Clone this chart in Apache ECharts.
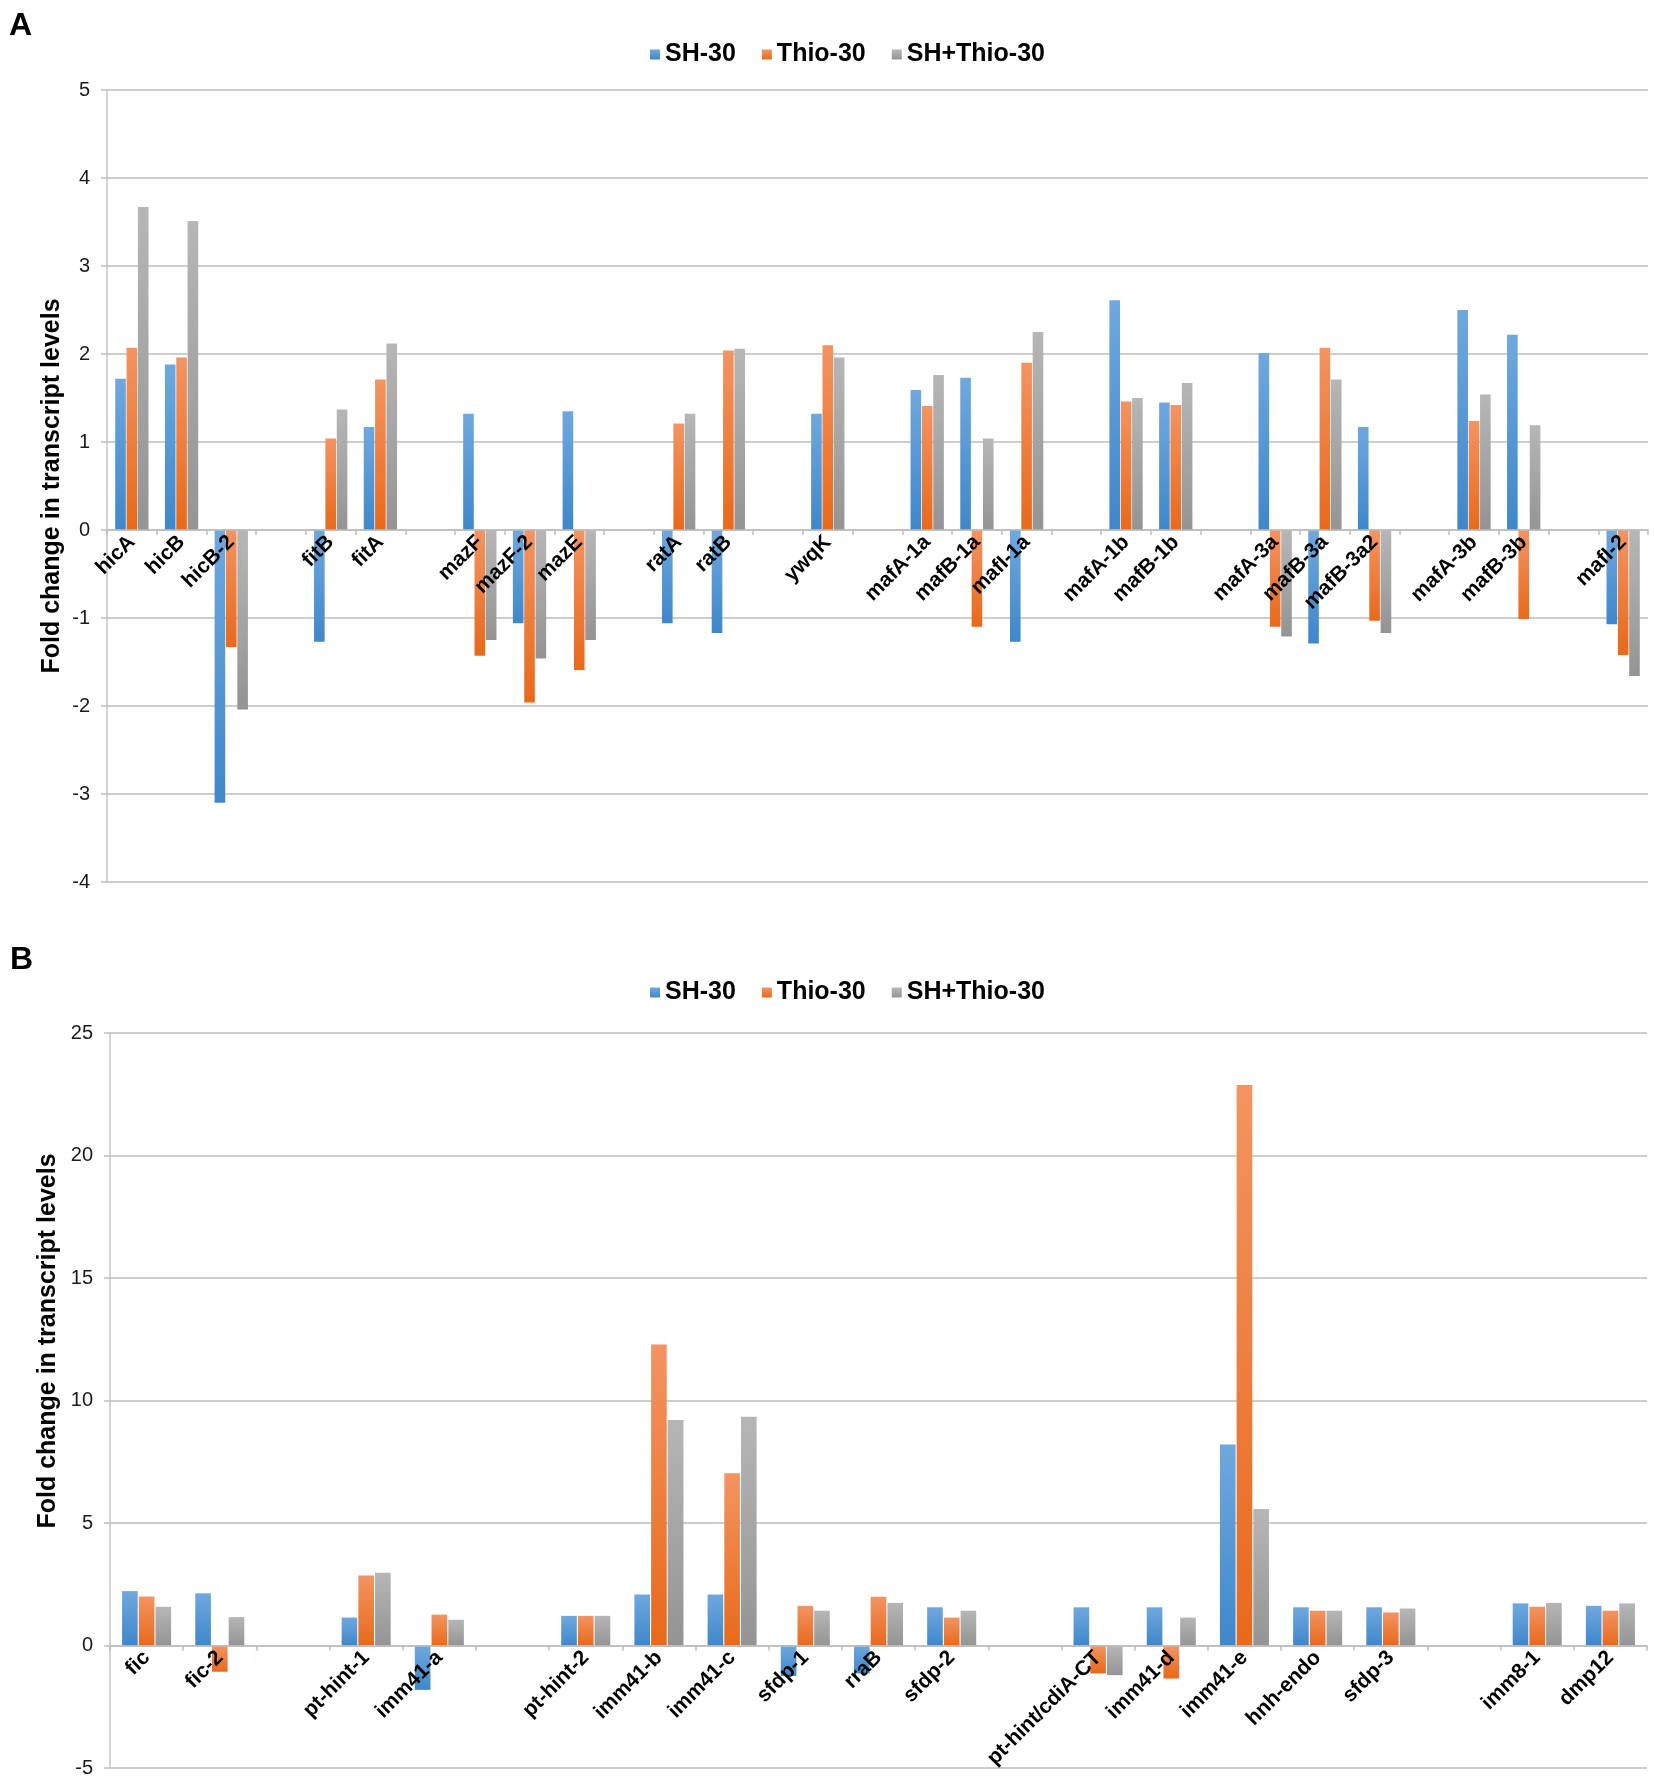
<!DOCTYPE html>
<html>
<head>
<meta charset="utf-8">
<script src="https://cdn.jsdelivr.net/npm/echarts@6/dist/echarts.min.js"></script>
<style>
  html, body { margin: 0; padding: 0; background: #fff; }
  #main { width: 1654px; height: 1783px; }
</style>
</head>
<body>
<div id="main"></div>
<script type="text/javascript">
// panel A - toxin/antitoxin genes ('' = empty slot between groups)
var catsA = ['hicA', 'hicB', 'hicB-2', '', 'fitB', 'fitA', '', 'mazF', 'mazF-2', 'mazE', '', 'ratA', 'ratB', '', 'ywqK', '',
  'mafA-1a', 'mafB-1a', 'mafI-1a', '', 'mafA-1b', 'mafB-1b', '', 'mafA-3a', 'mafB-3a', 'mafB-3a2', '', 'mafA-3b', 'mafB-3b', '', 'mafI-2'];
var sh30A = [1.72, 1.88, -3.10, null, -1.27, 1.17, null, 1.32, -1.06, 1.35, null, -1.06, -1.17, null, 1.32, null,
  1.59, 1.73, -1.27, null, 2.61, 1.45, null, 2.01, -1.29, 1.17, null, 2.50, 2.22, null, -1.07];
var thio30A = [2.07, 1.96, -1.33, null, 1.04, 1.71, null, -1.43, -1.96, -1.59, null, 1.21, 2.04, null, 2.10, null,
  1.41, -1.10, 1.90, null, 1.46, 1.42, null, -1.10, 2.07, -1.03, null, 1.24, -1.01, null, -1.42];
var shThio30A = [3.67, 3.51, -2.04, null, 1.37, 2.12, null, -1.25, -1.46, -1.25, null, 1.32, 2.06, null, 1.96, null,
  1.76, 1.04, 2.25, null, 1.50, 1.67, null, -1.21, 1.71, -1.17, null, 1.54, 1.19, null, -1.66];
var yRangeA = [-4, 5, 1];   // min, max, step

// panel B
var catsB = ['fic', 'fic-2', '', 'pt-hint-1', 'imm41-a', '', 'pt-hint-2', 'imm41-b', 'imm41-c', 'sfdp-1', 'rraB', 'sfdp-2', '',
  'pt-hint/cdiA-CT', 'imm41-d', 'imm41-e', 'hnh-endo', 'sfdp-3', '', 'imm8-1', 'dmp12'];
var sh30B = [2.22, 2.13, null, 1.14, -1.81, null, 1.21, 2.08, 2.08, -1.24, -1.14, 1.56, null,
  1.56, 1.56, 8.2, 1.56, 1.56, null, 1.72, 1.62];
var thio30B = [2.0, -1.07, null, 2.86, 1.26, null, 1.21, 12.29, 7.03, 1.62, 1.99, 1.14, null,
  -1.14, -1.35, 22.88, 1.42, 1.35, null, 1.58, 1.42];
var shThio30B = [1.58, 1.16, null, 2.97, 1.05, null, 1.21, 9.2, 9.34, 1.42, 1.74, 1.42, null,
  -1.21, 1.14, 5.57, 1.42, 1.51, null, 1.74, 1.72];
var yRangeB = [-5, 25, 5];

var seriesNames = ['SH-30', 'Thio-30', 'SH+Thio-30'];

var FONT = '"Liberation Sans", Arial, Helvetica, sans-serif';

// plot boxes
var gridA = { left: 107, right: 6, top: 90, height: 792 };
var gridB = { left: 110, right: 7, top: 1033, height: 735 };

function grad(top, bottom) {
  return new echarts.graphic.LinearGradient(0, 0, 0, 1, [
    { offset: 0, color: top },
    { offset: 1, color: bottom }
  ]);
}
var colors = [
  grad('#6fa8de', '#3f87ca'),
  grad('#f39462', '#e8691b'),
  grad('#b6b6b6', '#949494')
];

// category axis sits on the zero line: shift it up from the bottom of the grid
function xAxisOf(idx, cats, grid, range) {
  var shift = (0 - range[0]) / (range[1] - range[0]) * grid.height;
  return {
    type: 'category',
    gridIndex: idx,
    data: cats,
    position: 'bottom',
    offset: -shift,
    z: 5,
    axisLine: { onZero: false, lineStyle: { color: '#bdbdbd', width: 1.5 } },
    axisTick: { show: true, length: 5, lineStyle: { color: '#bdbdbd', width: 1.5 } },
    axisLabel: {
      interval: 0, rotate: 45, margin: 9,
      fontFamily: FONT, fontSize: 21, fontWeight: 'bold', color: '#000'
    },
    splitLine: { show: false }
  };
}

function yAxisOf(idx, range) {
  return {
    type: 'value',
    gridIndex: idx,
    min: range[0], max: range[1], interval: range[2],
    axisLine: { show: true, onZero: false, lineStyle: { color: '#c4c4c4', width: 1.5 } },
    axisTick: { show: true, length: 6, lineStyle: { color: '#bdbdbd', width: 1.5 } },
    axisLabel: { margin: 17, fontFamily: FONT, fontSize: 20, color: '#1a1a1a' },
    splitLine: { show: true, lineStyle: { color: '#bdbdbd', width: 1.5 } }
  };
}

function barSeries(name, idx, data, color) {
  return {
    name: name,
    type: 'bar',
    xAxisIndex: idx,
    yAxisIndex: idx,
    data: data,
    barCategoryGap: '33%',
    barGap: '7%',
    itemStyle: { color: color },
    emphasis: { disabled: true }
  };
}

function legendOf(top) {
  return {
    data: seriesNames,
    left: 650,
    top: top,
    padding: 0,
    icon: 'rect',
    itemWidth: 10,
    itemHeight: 10,
    itemGap: 26,
    textStyle: { fontFamily: FONT, fontSize: 25, fontWeight: 'bold', color: '#000' }
  };
}

var myChart = echarts.init(document.getElementById('main'));
var option = {
  backgroundColor: '#fff',
  animation: false,
  color: colors,
  legend: [legendOf(42), legendOf(980)],
  grid: [gridA, gridB],
  xAxis: [xAxisOf(0, catsA, gridA, yRangeA), xAxisOf(1, catsB, gridB, yRangeB)],
  yAxis: [yAxisOf(0, yRangeA), yAxisOf(1, yRangeB)],
  series: [
    barSeries(seriesNames[0], 0, sh30A, colors[0]),
    barSeries(seriesNames[1], 0, thio30A, colors[1]),
    barSeries(seriesNames[2], 0, shThio30A, colors[2]),
    barSeries(seriesNames[0], 1, sh30B, colors[0]),
    barSeries(seriesNames[1], 1, thio30B, colors[1]),
    barSeries(seriesNames[2], 1, shThio30B, colors[2])
  ],
  graphic: [
    { type: 'text', left: 9, top: 10, style: { text: 'A', font: 'bold 32px ' + FONT, fill: '#000' } },
    { type: 'text', left: 10, top: 944, style: { text: 'B', font: 'bold 32px ' + FONT, fill: '#000' } },
    {
      type: 'text', x: 52, y: 486, rotation: Math.PI / 2,
      style: { text: 'Fold change in transcript levels', font: 'bold 25px ' + FONT, fill: '#000',
        textAlign: 'center', textVerticalAlign: 'middle' }
    },
    {
      type: 'text', x: 48, y: 1341, rotation: Math.PI / 2,
      style: { text: 'Fold change in transcript levels', font: 'bold 25px ' + FONT, fill: '#000',
        textAlign: 'center', textVerticalAlign: 'middle' }
    }
  ]
};
myChart.setOption(option);
</script>
</body>
</html>
